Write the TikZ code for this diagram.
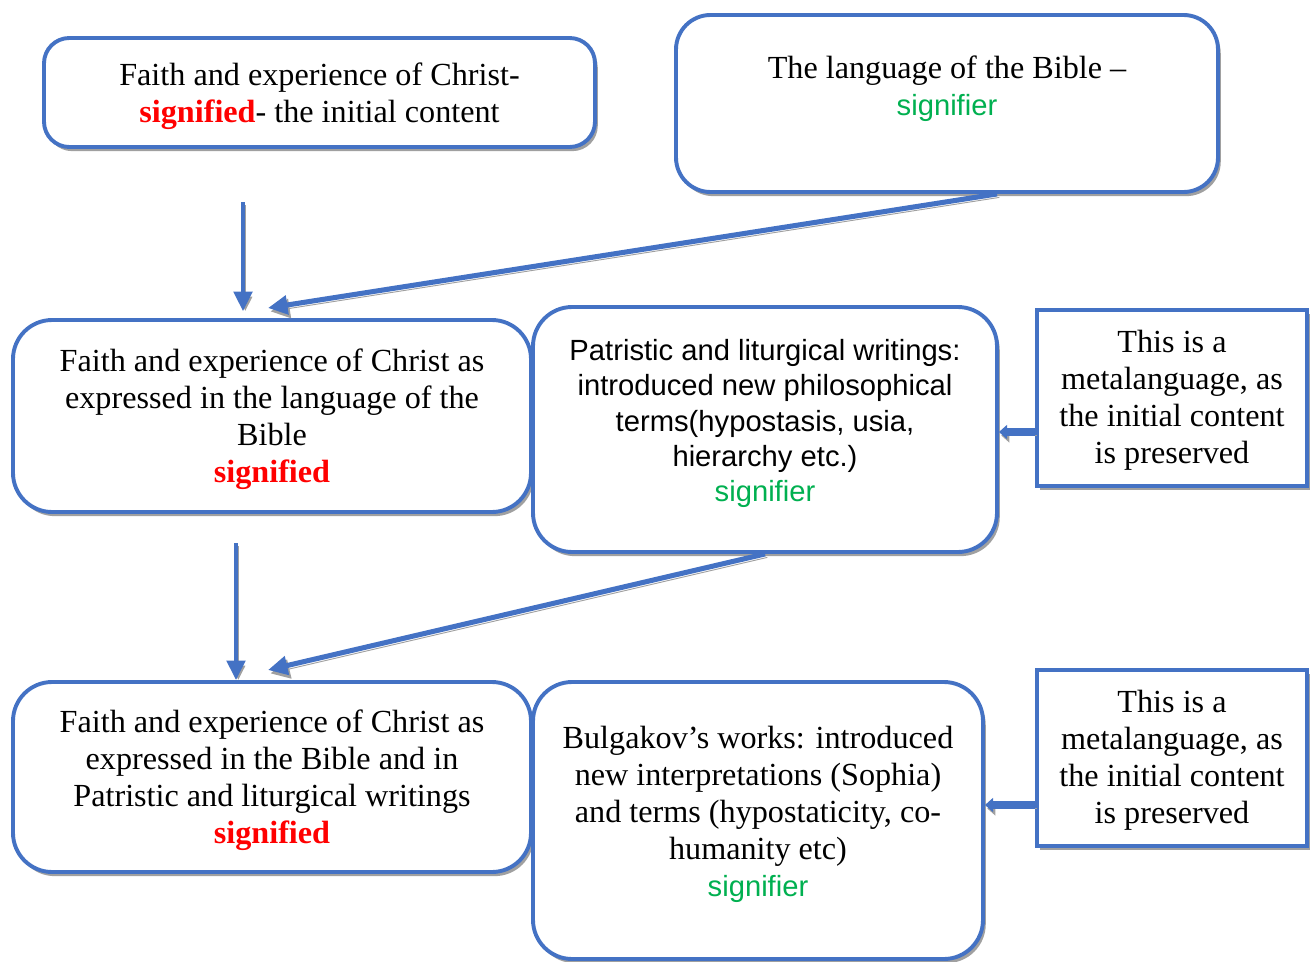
\documentclass[tikz,border=0pt]{standalone}
\usepackage{fontspec}
\setmainfont{Liberation Serif}
\setsansfont{Liberation Sans}
\usetikzlibrary{arrows.meta,shadows}
\definecolor{boxblue}{HTML}{4472C4}
\definecolor{sigred}{HTML}{FF0000}
\definecolor{siggreen}{HTML}{00B050}
\definecolor{shadowgray}{HTML}{A0A0A0}
\newcommand\pxu{0.435pt}
\newcommand\sigd[1]{{\bfseries\color{sigred}#1}}
\newcommand\sigr[1]{{\sffamily\fontsize{12.7}{15.3}\selectfont\color{siggreen}#1}}
\tikzset{
  roundbox/.style={draw=boxblue, line width=1.7pt, fill=white, rounded corners=16pt, inner sep=0pt,
    drop shadow={shadow xshift=1.2pt, shadow yshift=-1.8pt, fill=shadowgray, opacity=1}},
  squarebox/.style={roundbox, sharp corners},
  boxtext/.style={align=center, inner sep=0pt},
  linkarrow/.style={draw=boxblue, line width=1.8pt, -{Triangle[width=8pt,length=8.5pt]},
    preaction={draw=shadowgray, transform canvas={shift={(1pt,-1.5pt)}}}},
  fatarrow/.style={draw=boxblue, line width=3.4pt, -{Triangle[width=6pt,length=3.5pt]},
    preaction={draw=shadowgray, transform canvas={shift={(1pt,-1.5pt)}}}}
}
\begin{document}
\begin{tikzpicture}[x=\pxu, y=-\pxu, font=\fontsize{14}{16.1}\selectfont]
\useasboundingbox (0,0) rectangle (1314,961);

% top row
\node[roundbox, rounded corners=11pt, minimum width=551*\pxu, minimum height=109*\pxu] (faith) at (319.5,92.5) {};
\node[boxtext] (faithtext) at (319.5,96.5) {Faith and experience of Christ-\\ \sigd{signified}- the initial content};
\node[roundbox, rounded corners=15pt, minimum width=542*\pxu, minimum height=177*\pxu] (bible) at (947,103.5) {};
\node[boxtext] (bibletext) at (947,89) {The language of the Bible –\\ \sigr{signifier}};

% middle row
\node[roundbox, rounded corners=17pt, minimum width=518*\pxu, minimum height=192*\pxu] (biblesig) at (272,416) {};
\node[boxtext] (biblesigtext) at (272,419)
  {Faith and experience of Christ as\\ expressed in the language of the\\ Bible\\ \sigd{signified}};
\node[roundbox, rounded corners=17pt, minimum width=464*\pxu, minimum height=245*\pxu] (patristic) at (765,429.5) {};
\node[boxtext, font=\sffamily\fontsize{12.7}{15.3}\selectfont] (patristictext) at (765,423.5)
  {Patristic and liturgical writings:\\ introduced new philosophical\\ terms(hypostasis, usia,\\ hierarchy etc.)\\ \sigr{signifier}};
\node[squarebox, minimum width=270*\pxu, minimum height=176*\pxu] (metaone) at (1172,398) {};
\node[boxtext] (metaonetext) at (1172,400) {This is a\\ metalanguage, as\\ the initial content\\ is preserved};

% bottom row
\node[roundbox, rounded corners=17pt, minimum width=518*\pxu, minimum height=190*\pxu] (patsig) at (272,777) {};
\node[boxtext] (patsigtext) at (272,780)
  {Faith and experience of Christ as\\ expressed in the Bible and in\\ Patristic and liturgical writings\\ \sigd{signified}};
\node[roundbox, rounded corners=17pt, minimum width=450*\pxu, minimum height=277*\pxu] (bulgakov) at (758,820.5) {};
\node[boxtext] (bulgakovtext) at (758,814)
  {Bulgakov’s works: introduced\\ new interpretations (Sophia)\\ and terms (hypostaticity, co-\\ humanity etc)\\ \sigr{signifier}};
\node[squarebox, minimum width=270*\pxu, minimum height=176*\pxu] (metatwo) at (1172,758) {};
\node[boxtext] (metatwotext) at (1172,760) {This is a\\ metalanguage, as\\ the initial content\\ is preserved};

% connectors
\coordinate (downone) at (243,202);
\coordinate (slantone) at (268,308);
\coordinate (downtwo) at (236,543);
\coordinate (slanttwo) at (268,670);
\coordinate (leftone) at ([yshift=-34*\pxu]metaone.west);
\coordinate (lefttwo) at ([yshift=-47*\pxu]metatwo.west);
\draw[linkarrow, shorten >=3pt] (downone) -- (downone |- biblesig.north);
\draw[linkarrow, line width=2.2pt] ([xshift=50*\pxu]bible.south) -- (slantone);
\draw[fatarrow] (leftone) -- (patristic.east |- leftone);
\draw[linkarrow] (downtwo) -- (downtwo |- patsig.north);
\draw[linkarrow, line width=2.2pt] (patristic.south) -- (slanttwo);
\draw[fatarrow] (lefttwo) -- (bulgakov.east |- lefttwo);
\end{tikzpicture}
\end{document}
